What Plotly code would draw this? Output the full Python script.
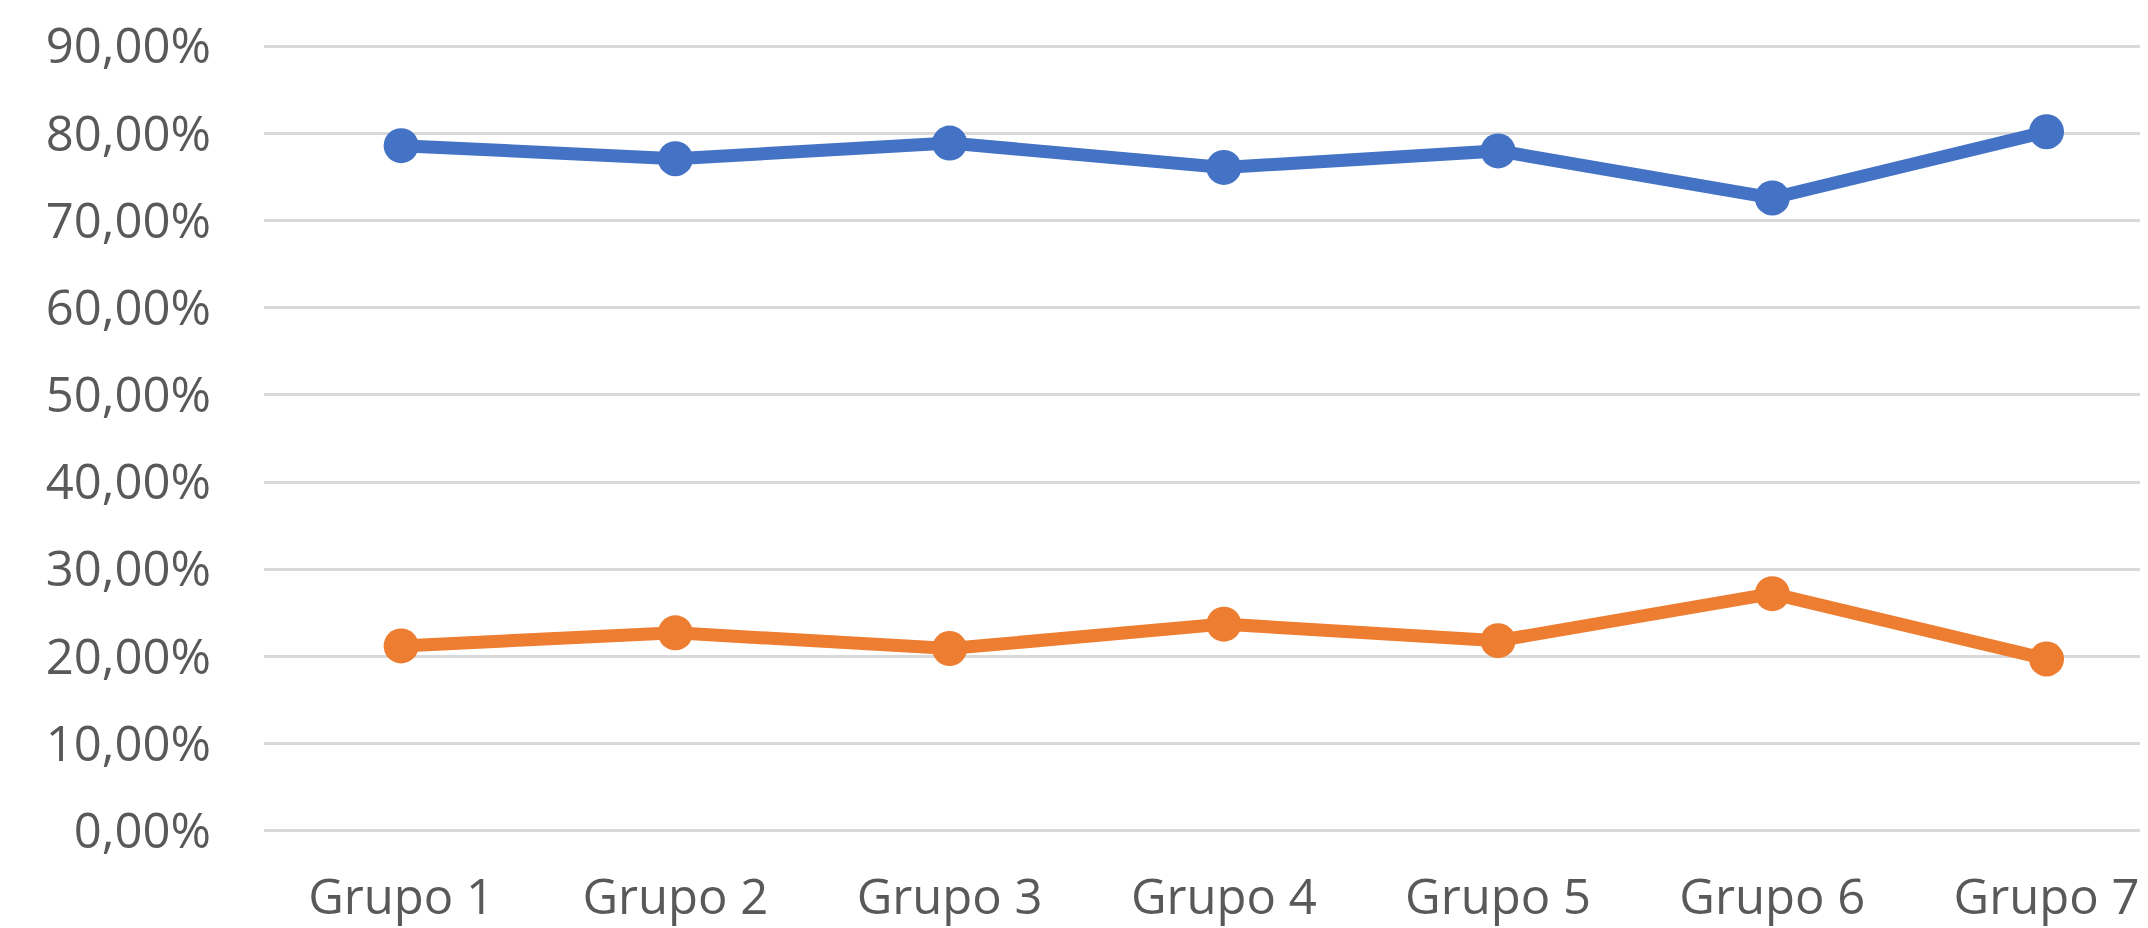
import plotly.graph_objects as go

grupos = ["Grupo 1", "Grupo 2", "Grupo 3", "Grupo 4", "Grupo 5", "Grupo 6", "Grupo 7"]
serie_azul = [0.786, 0.771, 0.789, 0.761, 0.780, 0.726, 0.802]
serie_laranja = [0.212, 0.227, 0.209, 0.237, 0.218, 0.272, 0.197]

AZUL = "#4472C4"
LARANJA = "#ED7D31"

fig = go.Figure()
for valores, cor in [(serie_azul, AZUL), (serie_laranja, LARANJA)]:
    fig.add_trace(
        go.Scatter(
            x=grupos,
            y=valores,
            mode="lines+markers",
            line=dict(color=cor, width=13),
            marker=dict(color=cor, size=35),
            showlegend=False,
        )
    )

# a página tem 8px de margem no body, por isso o layout é compensado
fig.update_layout(
    width=2140,
    height=920,
    margin=dict(l=256, r=0, t=37, b=96),
    plot_bgcolor="white",
    paper_bgcolor="white",
    separators=",.",
    font=dict(family="Open Sans", size=49, color="#595959"),
)
fig.update_xaxes(
    range=[-0.5, 6.37],
    showgrid=False,
    showline=False,
    ticks="",
    ticklabelstandoff=32,
    automargin=False,
)
fig.update_yaxes(
    range=[-0.0015, 0.9015],
    tickvals=[i / 10 for i in range(10)],
    tickformat=".2%",
    showgrid=True,
    gridcolor="#D9D9D9",
    gridwidth=3,
    zeroline=False,
    showline=False,
    ticks="",
    ticklabelstandoff=52,
    automargin=False,
)

fig.write_html("out.html")
